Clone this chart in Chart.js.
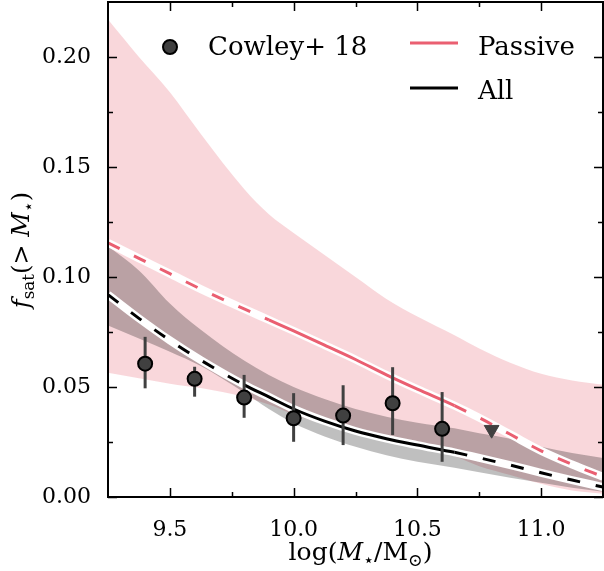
<!DOCTYPE html>
<html>
<head>
<meta charset="utf-8">
<script src="https://cdn.jsdelivr.net/npm/chart.js@4/dist/chart.umd.min.js"></script>
<style>
  html, body { margin: 0; padding: 0; background: #fff; }
  #wrap { width: 604px; height: 571px; }
</style>
</head>
<body>
<div id="wrap"><canvas id="chart" width="604" height="571"></canvas></div>
<script>
// model grid (log stellar mass)
const massGrid = [9.25, 9.375, 9.5, 9.625, 9.8, 9.9, 10.0, 10.125, 10.25, 10.375, 10.5, 10.65, 10.75, 10.875, 11.0, 11.125, 11.25]

// passive satellites
const passiveLine = [0.1155, 0.1085, 0.1015, 0.0945, 0.0855, 0.0805, 0.0755, 0.069, 0.0625, 0.0555, 0.049, 0.0415, 0.036, 0.0285, 0.021, 0.0148, 0.0092]
const passiveBandHigh = [0.217, 0.200, 0.184, 0.165, 0.140, 0.1285, 0.120, 0.110, 0.100, 0.090, 0.082, 0.0735, 0.0675, 0.061, 0.056, 0.053, 0.051]
const passiveBandLow = [0.0565, 0.054, 0.0515, 0.0495, 0.0455, 0.042, 0.0375, 0.033, 0.029, 0.026, 0.023, 0.0185, 0.014, 0.010, 0.006, 0.003, 0.0015]

// all satellites
const allLine = [0.092, 0.0812, 0.0712, 0.0622, 0.051, 0.0455, 0.040, 0.0345, 0.030, 0.0265, 0.0236, 0.0203, 0.0178, 0.0145, 0.011, 0.0077, 0.0045]
const allBandHigh = [0.114, 0.103, 0.088, 0.076, 0.062, 0.0555, 0.050, 0.0445, 0.040, 0.0365, 0.0338, 0.0312, 0.029, 0.0265, 0.0228, 0.020, 0.0177]
const allBandLow = [0.078, 0.072, 0.066, 0.0595, 0.0475, 0.040, 0.0335, 0.0275, 0.0228, 0.019, 0.016, 0.0133, 0.0112, 0.0088, 0.0065, 0.0042, 0.0024]

// solid part of each curve (where the data constrain the model)
const passiveSolid = [9.9, 10.65]
const allSolid = [9.8, 10.65]

// Cowley+ 18
const cowleyMass = [9.4, 9.6, 9.8, 10.0, 10.2, 10.4, 10.6]
const cowleyFsat = [0.0606, 0.0537, 0.0452, 0.0358, 0.037, 0.0426, 0.031]
const cowleyErrHigh = [0.0728, 0.0592, 0.0555, 0.0472, 0.0508, 0.059, 0.0477]
const cowleyErrLow = [0.0494, 0.0456, 0.036, 0.0251, 0.0236, 0.0282, 0.016]
const limitMass = [10.8]
const limitFsat = [0.0306]

// axes
const xLabels = [9.5, 10.0, 10.5, 11.0]
const xMinor = [9.75, 10.25, 10.75]
const yLabels = [0.0, 0.05, 0.10, 0.15, 0.20]
const yMinor = [0.025, 0.075, 0.125, 0.175]

const PINK = '#ea5f71'
const DARK = '#404040'
const SERIF = '"DejaVu Serif", "Liberation Serif", serif'

const toPoints = (xs, ys) => xs.map((x, i) => ({ x: x, y: ys[i] }))

const dashed = (range) => (ctx) => {
    const x = ctx.p0.parsed.x
    return (x >= range[0] - 1e-9 && x < range[1] - 1e-9) ? [] : [13, 16]
}

// no extra room around the axes, the frame is fixed
const noPadding = (s) => {
    s.paddingTop = 0
    s.paddingBottom = 0
    s.paddingLeft = 0
    s.paddingRight = 0
}

const ErrorBars = {
    id: 'errorBars',
    beforeDatasetDraw(chart, args) {
        if (args.index !== 0) return
        const { ctx, scales: { x, y } } = chart
        ctx.save()
        ctx.strokeStyle = DARK
        ctx.lineWidth = 3
        cowleyMass.forEach((m, i) => {
            const px = x.getPixelForValue(m)
            ctx.beginPath()
            ctx.moveTo(px, y.getPixelForValue(cowleyErrLow[i]))
            ctx.lineTo(px, y.getPixelForValue(cowleyErrHigh[i]))
            ctx.stroke()
        })
        ctx.restore()
    }
}

function drawRich(ctx, parts, size) {
    // draws centred on 0, on the baseline
    let w = 0
    parts.forEach(p => {
        const s = p.sub ? size * 0.7 : size
        ctx.font = (p.italic ? 'italic ' : '') + s + 'px ' + SERIF
        p.w = ctx.measureText(p.t).width
        w += p.w
    })
    let x = -w / 2
    parts.forEach(p => {
        const s = p.sub ? size * 0.7 : size
        ctx.font = (p.italic ? 'italic ' : '') + s + 'px ' + SERIF
        ctx.fillText(p.t, x, p.sub ? size * 0.22 : 0)
        x += p.w
    })
}

const Frame = {
    id: 'frame',
    afterDraw(chart) {
        const { ctx, chartArea: a, scales: { x, y } } = chart
        ctx.save()
        ctx.strokeStyle = '#000'
        ctx.lineWidth = 1.5
        const tickX = (vals, len) => {
            vals.forEach(v => {
                const px = Math.round(x.getPixelForValue(v)) + 0.5
                ctx.beginPath()
                ctx.moveTo(px, a.bottom); ctx.lineTo(px, a.bottom - len)
                ctx.moveTo(px, a.top); ctx.lineTo(px, a.top + len)
                ctx.stroke()
            })
        }
        const tickY = (vals, len) => {
            vals.forEach(v => {
                const py = Math.round(y.getPixelForValue(v)) + 0.5
                ctx.beginPath()
                ctx.moveTo(a.left, py); ctx.lineTo(a.left + len, py)
                ctx.moveTo(a.right, py); ctx.lineTo(a.right - len, py)
                ctx.stroke()
            })
        }
        tickX(xLabels, 9)
        tickX(xMinor, 5)
        tickY(yLabels, 9)
        tickY(yMinor, 5)
        ctx.lineWidth = 2
        ctx.strokeRect(a.left, a.top, a.right - a.left, a.bottom - a.top)

        // axis titles
        ctx.fillStyle = '#000'
        ctx.textBaseline = 'alphabetic'
        ctx.textAlign = 'left'
        ctx.save()
        ctx.translate((a.left + a.right) / 2 + 5, 560)
        drawRich(ctx, [
            { t: 'log(' }, { t: 'M', italic: true }, { t: '\u22C6', sub: true },
            { t: '/M' }, { t: '\u2299', sub: true }, { t: ')' }
        ], 25)
        ctx.restore()
        ctx.save()
        ctx.translate(29, 250)
        ctx.rotate(-Math.PI / 2)
        drawRich(ctx, [
            { t: 'f', italic: true }, { t: 'sat', sub: true }, { t: '(> ' },
            { t: 'M', italic: true }, { t: '\u22C6', sub: true }, { t: ')' }
        ], 24)
        ctx.restore()

        // legend
        ctx.font = '26px ' + SERIF
        ctx.beginPath()
        ctx.arc(170, 47, 7, 0, Math.PI * 2)
        ctx.fillStyle = DARK
        ctx.fill()
        ctx.lineWidth = 2
        ctx.strokeStyle = '#000'
        ctx.stroke()
        ctx.fillStyle = '#000'
        ctx.fillText('Cowley+ 18', 208, 55)
        ctx.lineWidth = 3
        ctx.strokeStyle = PINK
        ctx.beginPath(); ctx.moveTo(410, 43); ctx.lineTo(458, 43); ctx.stroke()
        ctx.strokeStyle = '#000'
        ctx.beginPath(); ctx.moveTo(410, 88); ctx.lineTo(458, 88); ctx.stroke()
        ctx.fillText('Passive', 478, 55)
        ctx.fillText('All', 478, 99)
        ctx.restore()
    }
}

const lineBase = { type: 'line', pointRadius: 0, tension: 0.4, cubicInterpolationMode: 'monotone', clip: 0 }

const chart = new Chart(document.getElementById('chart'), {
    data: {
        datasets: [
            {
                type: 'scatter', label: 'Cowley+ 18', order: 0,
                data: toPoints(cowleyMass, cowleyFsat),
                pointRadius: 7, pointBackgroundColor: DARK, pointBorderColor: '#000', pointBorderWidth: 2
            },
            {
                type: 'scatter', label: 'upper limit', order: 1,
                data: toPoints(limitMass, limitFsat),
                pointStyle: 'triangle', rotation: 180, pointRadius: 8.5,
                pointBackgroundColor: DARK, pointBorderColor: DARK, pointBorderWidth: 1
            },
            Object.assign({}, lineBase, {
                label: 'Passive', order: 2, data: toPoints(massGrid, passiveLine),
                borderColor: PINK, borderWidth: 3, segment: { borderDash: dashed(passiveSolid) }
            }),
            Object.assign({}, lineBase, {
                label: 'Passive outline', order: 3, data: toPoints(massGrid, passiveLine),
                borderColor: '#fff', borderWidth: 8
            }),
            Object.assign({}, lineBase, {
                label: 'All', order: 4, data: toPoints(massGrid, allLine),
                borderColor: '#000', borderWidth: 3, segment: { borderDash: dashed(allSolid) }
            }),
            Object.assign({}, lineBase, {
                label: 'All outline', order: 5, data: toPoints(massGrid, allLine),
                borderColor: '#fff', borderWidth: 8
            }),
            Object.assign({}, lineBase, {
                label: 'All band', order: 6, data: toPoints(massGrid, allBandHigh),
                borderWidth: 0, borderColor: 'transparent', fill: '+1', backgroundColor: 'rgba(0,0,0,0.25)'
            }),
            Object.assign({}, lineBase, {
                label: 'All band low', order: 7, data: toPoints(massGrid, allBandLow),
                borderWidth: 0, borderColor: 'transparent', fill: false
            }),
            Object.assign({}, lineBase, {
                label: 'Passive band', order: 8, data: toPoints(massGrid, passiveBandHigh),
                borderWidth: 0, borderColor: 'transparent', fill: '+1', backgroundColor: 'rgba(232,96,111,0.25)'
            }),
            Object.assign({}, lineBase, {
                label: 'Passive band low', order: 9, data: toPoints(massGrid, passiveBandLow),
                borderWidth: 0, borderColor: 'transparent', fill: false
            })
        ]
    },
    options: {
        responsive: false,
        animation: false,
        devicePixelRatio: 1,
        layout: { autoPadding: false, padding: { top: 2, right: 1, left: 0, bottom: 0 } },
        plugins: { legend: { display: false }, tooltip: { enabled: false } },
        scales: {
            x: {
                type: 'linear', min: 9.25, max: 11.25,
                grid: { display: false }, border: { display: false },
                afterBuildTicks: s => { s.ticks = xLabels.map(v => ({ value: v })) },
                afterFit: s => { s.height = 74; noPadding(s) },
                ticks: {
                    color: '#000', padding: 12, maxRotation: 0,
                    font: { family: SERIF, size: 22 },
                    callback: v => Number(v).toFixed(1)
                }
            },
            y: {
                type: 'linear', min: 0, max: 0.225,
                grid: { display: false }, border: { display: false },
                afterBuildTicks: s => { s.ticks = yLabels.map(v => ({ value: v })) },
                afterFit: s => { s.width = 108; noPadding(s) },
                ticks: {
                    color: '#000', padding: 9,
                    font: { family: SERIF, size: 22 },
                    callback: v => Number(v).toFixed(2)
                }
            }
        }
    },
    plugins: [ErrorBars, Frame]
})
</script>
</body>
</html>
